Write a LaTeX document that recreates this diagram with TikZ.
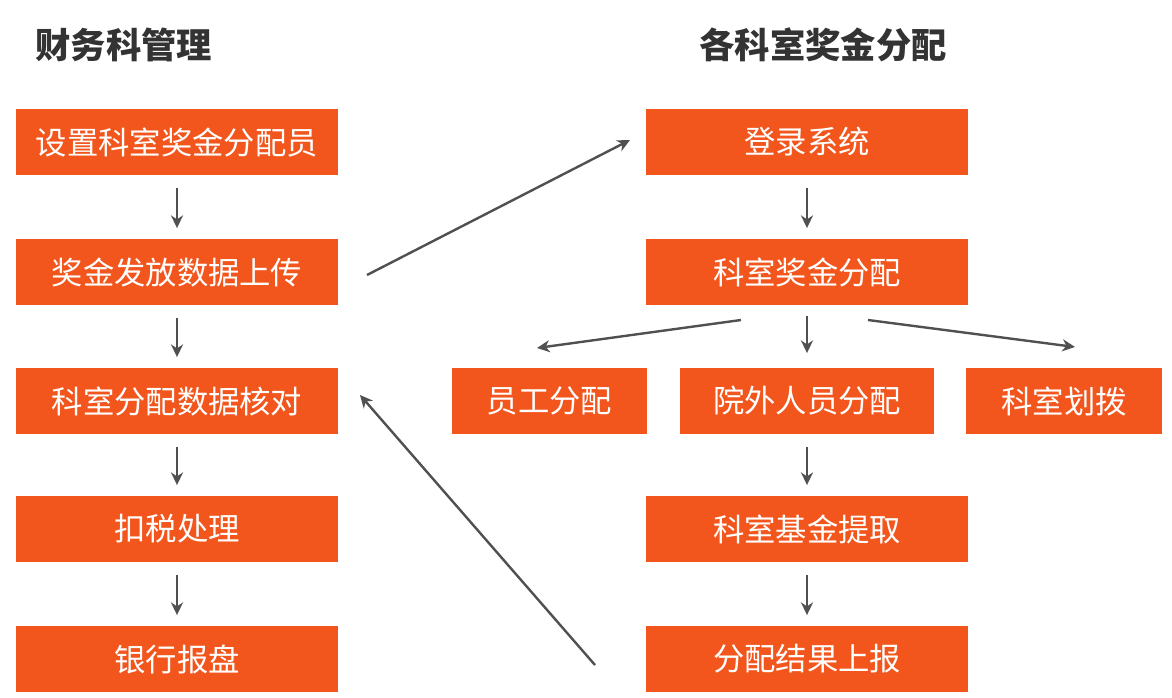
\documentclass[tikz,border=0pt]{standalone}
\usepackage{fontspec}
\setmainfont{Noto Sans CJK SC}
\usetikzlibrary{arrows.meta,positioning}
\definecolor{boxc}{RGB}{242,86,29}
\definecolor{arrc}{RGB}{80,80,80}
\tikzset{
  stepbox/.style={rectangle,fill=boxc,text=white,minimum width=241.5pt,minimum height=49.5pt,inner sep=0pt,font=\fontsize{23.5pt}{26pt}\selectfont},
  subbox/.style={stepbox,minimum width=#1},
  ttl/.style={font=\fontsize{26.5pt}{30pt}\selectfont\bfseries,text=black!80},
  flow/.style={-{Stealth[length=9.5pt,width=9pt,inset=3pt]},line width=2.1pt,arrc},
}
\begin{document}
\begin{tikzpicture}[x=0.75pt,y=-0.75pt]
  \useasboundingbox (0,0) rectangle (1172,697);
  % titles
  \node[ttl] (tl) at (124,45) {财务科管理};
  \node[ttl] (tr) at (823,45) {各科室奖金分配};
  % left column
  \node[stepbox] (l1) at (177,142) {设置科室奖金分配员};
  \node[stepbox] (l2) at (177,272) {奖金发放数据上传};
  \node[stepbox] (l3) at (177,401) {科室分配数据核对};
  \node[stepbox] (l4) at (177,529) {扣税处理};
  \node[stepbox] (l5) at (177,659) {银行报盘};
  % right column
  \node[stepbox] (r1) at (807,142) {登录系统};
  \node[stepbox] (r2) at (807,272) {科室奖金分配};
  \node[subbox=146.25pt] (ra) at (549.5,401) {员工分配};
  \node[subbox=190.5pt] (rb) at (807,401) {院外人员分配};
  \node[subbox=147pt] (rc) at (1064,401) {科室划拨};
  \node[stepbox] (r4) at (807,529) {科室基金提取};
  \node[stepbox] (r5) at (807,659) {分配结果上报};
  % vertical arrows
  \foreach \a/\b in {l1/l2,l2/l3,l3/l4,l4/l5,r1/r2,rb/r4,r4/r5}{
     \draw[flow,shorten <=9.5pt,shorten >=8pt] (\a.south) -- (\b.north);}
  \draw[flow,shorten <=8pt,shorten >=11pt] (r2.south) -- (rb.north);
  % diagonal arrows
  \coordinate (up0) at (367,275);  \coordinate (up1) at (630,140);
  \coordinate (sa0) at (741,320);  \coordinate (sa1) at (537,348);
  \coordinate (sc0) at (868,320);  \coordinate (sc1) at (1075,347);
  \coordinate (bk0) at (595,665);  \coordinate (bk1) at (360,395);
  \draw[flow,line width=1.8pt] (up0) -- (up1);
  \draw[flow,line width=1.8pt] (sa0) -- (sa1);
  \draw[flow,line width=1.8pt] (sc0) -- (sc1);
  \draw[flow,line width=1.8pt] (bk0) -- (bk1);
\end{tikzpicture}
\end{document}
